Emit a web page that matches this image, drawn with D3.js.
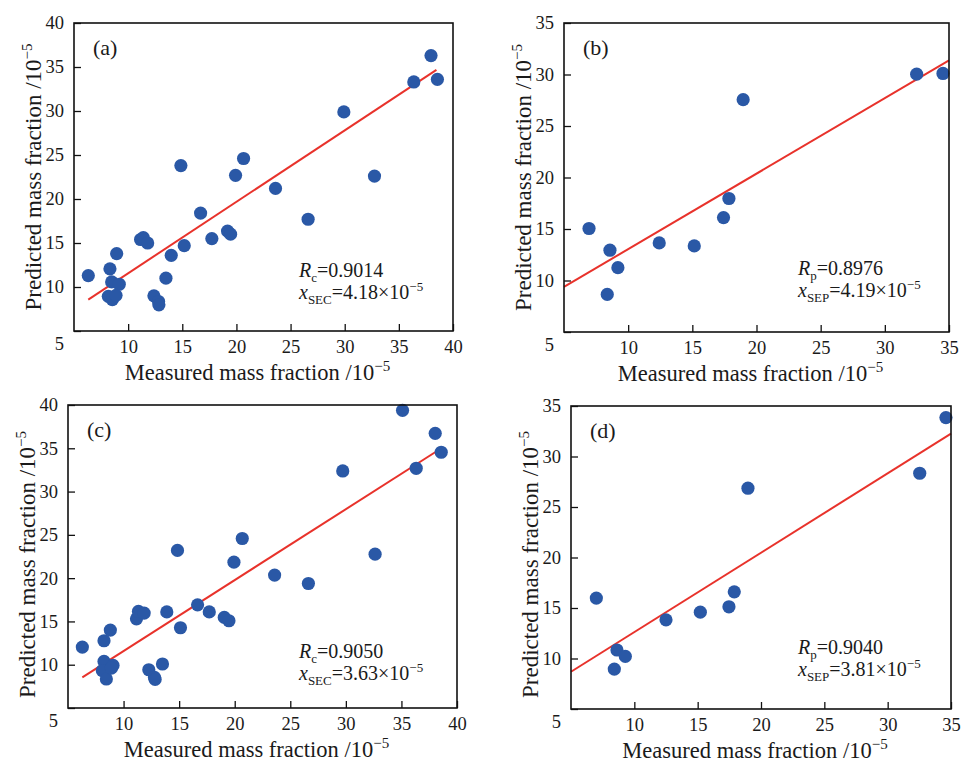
<!DOCTYPE html>
<html>
<head>
<meta charset="utf-8">
<script src="https://cdn.jsdelivr.net/npm/d3@7"></script>
<style>
  body { margin: 0; background: #fff; }
</style>
</head>
<body>
<svg width="962" height="762"></svg>
<script>
// ---- data (units 10^-5) ----
var measuredA = [6.32, 8.32, 8.94, 8.48, 9.18, 8.17, 8.54, 8.88, 11.15, 11.4, 11.8, 13.49, 12.38, 12.81, 12.84, 13.98, 14.87, 15.18, 16.69, 17.73, 19.18, 19.46, 19.92, 20.66, 23.61, 26.62, 29.92, 32.75, 36.38, 37.97, 38.56];
var predictedA = [11.3, 12.06, 13.8, 10.58, 10.31, 8.94, 8.56, 9.05, 15.4, 15.6, 15.0, 11.0, 9.0, 8.35, 7.97, 13.6, 23.8, 14.7, 18.4, 15.5, 16.35, 16.0, 22.69, 24.6, 21.2, 17.7, 29.9, 22.6, 33.3, 36.3, 33.6];
var fitA = [[6.32, 8.57], [38.47, 34.68]];

var measuredB = [6.95, 8.58, 9.2, 8.37, 12.42, 15.15, 17.43, 17.85, 18.96, 32.48, 34.53];
var predictedB = [15.05, 12.94, 11.25, 8.65, 13.65, 13.36, 16.11, 17.96, 27.56, 30.03, 30.1];
var fitB = [[5, 9.38], [35, 31.37]];

var measuredC = [6.29, 8.24, 8.81, 8.24, 9.05, 8.09, 8.45, 8.9, 11.16, 11.34, 11.85, 13.5, 12.27, 12.78, 12.84, 13.89, 14.85, 15.12, 16.66, 17.71, 19.06, 19.48, 19.93, 20.68, 23.59, 26.63, 29.72, 32.63, 36.33, 38.04, 38.58, 35.1];
var predictedC = [12.04, 12.77, 14.0, 10.38, 9.92, 9.31, 8.35, 9.6, 15.3, 16.15, 15.96, 10.08, 9.42, 8.54, 8.3, 16.1, 23.2, 14.27, 16.92, 16.1, 15.46, 15.08, 21.85, 24.58, 20.35, 19.38, 32.38, 22.77, 32.69, 36.73, 34.54, 39.38];
var fitC = [[6.29, 8.54], [38.49, 34.92]];

var measuredD = [7.0, 8.63, 9.29, 8.42, 12.5, 15.21, 17.47, 17.89, 18.97, 32.53, 34.6];
var predictedD = [15.98, 10.84, 10.21, 8.95, 13.83, 14.59, 15.12, 16.6, 26.86, 28.34, 33.85];
var fitD = [[5, 8.69], [35, 32.26]];

var ticksCal = [10, 15, 20, 25, 30, 35, 40];
var ticksVal = [10, 15, 20, 25, 30, 35];
var yTicksCal = [5, 10, 15, 20, 25, 30, 35, 40];
var yTicksVal = [5, 10, 15, 20, 25, 30, 35];

var xTitle = "Measured mass fraction /10";
var yTitle = "Predicted mass fraction /10";

// ---- layout ----
var panels = [
    {label: "(a)", x0: 74, y0: 23, w: 379, h: 308, max: 40, xs: measuredA, ys: predictedA, fit: fitA, xt: ticksCal, yt: yTicksCal,
     r: "c", r2: "0.9014", s: "SEC", sv: "4.18", ax: 225, ay: 254, ty: 0},
    {label: "(b)", x0: 564, y0: 23, w: 385, h: 309, max: 35, xs: measuredB, ys: predictedB, fit: fitB, xt: ticksVal, yt: yTicksVal,
     r: "p", r2: "0.8976", s: "SEP", sv: "4.19", ax: 234, ay: 252, ty: 0},
    {label: "(c)", x0: 68, y0: 405, w: 389, h: 303, max: 40, xs: measuredC, ys: predictedC, fit: fitC, xt: ticksCal, yt: yTicksCal,
     r: "c", r2: "0.9050", s: "SEC", sv: "3.63", ax: 231, ay: 253, ty: 8},
    {label: "(d)", x0: 571, y0: 406, w: 380, h: 303, max: 35, xs: measuredD, ys: predictedD, fit: fitD, xt: ticksVal, yt: yTicksVal,
     r: "p", r2: "0.9040", s: "SEP", sv: "3.81", ax: 227, ay: 248, ty: 7}
];

var svg = d3.select("svg");
var dotColor = "#2a58a6";
var lineColor = "#e8322b";
var serif = "'Liberation Serif', 'Times New Roman', serif";

panels.forEach(drawPanel);

svg.selectAll("text").style("font-family", serif).attr("fill", "#1a1a1a");

function drawPanel(p) {
    var g = svg.append("g").attr("transform", "translate(" + p.x0 + "," + p.y0 + ")");

    var x = d3.scaleLinear().domain([5, p.max]).range([0, p.w]);
    var y = d3.scaleLinear().domain([5, p.max]).range([p.h, 0]);

    // axes, ticks pointing inward
    var xAxis = g.append("g")
        .attr("transform", "translate(0," + p.h + ")")
        .call(d3.axisBottom(x).tickValues(p.xt).tickSizeInner(-7).tickSizeOuter(0).tickPadding(9));
    var yAxis = g.append("g")
        .call(d3.axisLeft(y).tickValues(p.yt).tickSizeInner(-7).tickSizeOuter(0).tickPadding(10));
    [xAxis, yAxis].forEach(function(a) {
        a.select(".domain").remove();
        a.selectAll("line").attr("stroke", "#111").attr("stroke-width", 1.3);
        a.selectAll("text").attr("font-size", 18.5);
    });
    // the lowest y label sits below the corner
    yAxis.selectAll(".tick").filter(function(d) { return d === 5; })
        .select("text").attr("dy", "1em");

    // fit line
    g.append("path")
        .datum(p.fit)
        .attr("fill", "none")
        .attr("stroke", lineColor)
        .attr("stroke-width", 2)
        .attr("d", d3.line().x(function(d) { return x(d[0]); }).y(function(d) { return y(d[1]); }));

    // points
    g.selectAll("circle")
        .data(p.xs.map(function(v, i) { return [v, p.ys[i]]; }))
        .enter()
        .append("circle")
        .attr("cx", function(d) { return x(d[0]); })
        .attr("cy", function(d) { return y(d[1]); })
        .attr("r", 6.6)
        .attr("fill", dotColor);

    // frame
    g.append("rect")
        .attr("width", p.w)
        .attr("height", p.h)
        .attr("fill", "none")
        .attr("stroke", "#111")
        .attr("stroke-width", 1.6);

    // panel label
    g.append("text")
        .attr("x", 19).attr("y", 32)
        .attr("font-size", 22)
        .text(p.label);

    // statistics
    var t1 = g.append("text").attr("x", p.ax).attr("y", p.ay).attr("font-size", 20);
    t1.append("tspan").attr("font-style", "italic").text("R");
    t1.append("tspan").attr("font-size", 13).attr("dy", 5).text(p.r);
    t1.append("tspan").attr("dy", -5).text("=" + p.r2);

    var t2 = g.append("text").attr("x", p.ax).attr("y", p.ay + 22).attr("font-size", 20);
    t2.append("tspan").attr("font-style", "italic").text("x");
    t2.append("tspan").attr("font-size", 13).attr("dy", 5).text(p.s);
    t2.append("tspan").attr("dy", -5).text("=" + p.sv + "\u00d710");
    t2.append("tspan").attr("font-size", 13).attr("dy", -8).text("\u22125");

    // axis titles
    var xt = g.append("text")
        .attr("x", p.w / 2 - 6).attr("y", p.h + 49)
        .attr("text-anchor", "middle")
        .attr("font-size", 22.5);
    xt.append("tspan").text(xTitle);
    xt.append("tspan").attr("font-size", 15).attr("dy", -9).text("\u22125");

    var yt = g.append("text")
        .attr("transform", "translate(-33," + (p.h / 2 + p.ty) + ") rotate(-90)")
        .attr("text-anchor", "middle")
        .attr("font-size", 23);
    yt.append("tspan").text(yTitle);
    yt.append("tspan").attr("font-size", 15).attr("dy", -9).text("\u22125");
}
</script>
</body>
</html>
